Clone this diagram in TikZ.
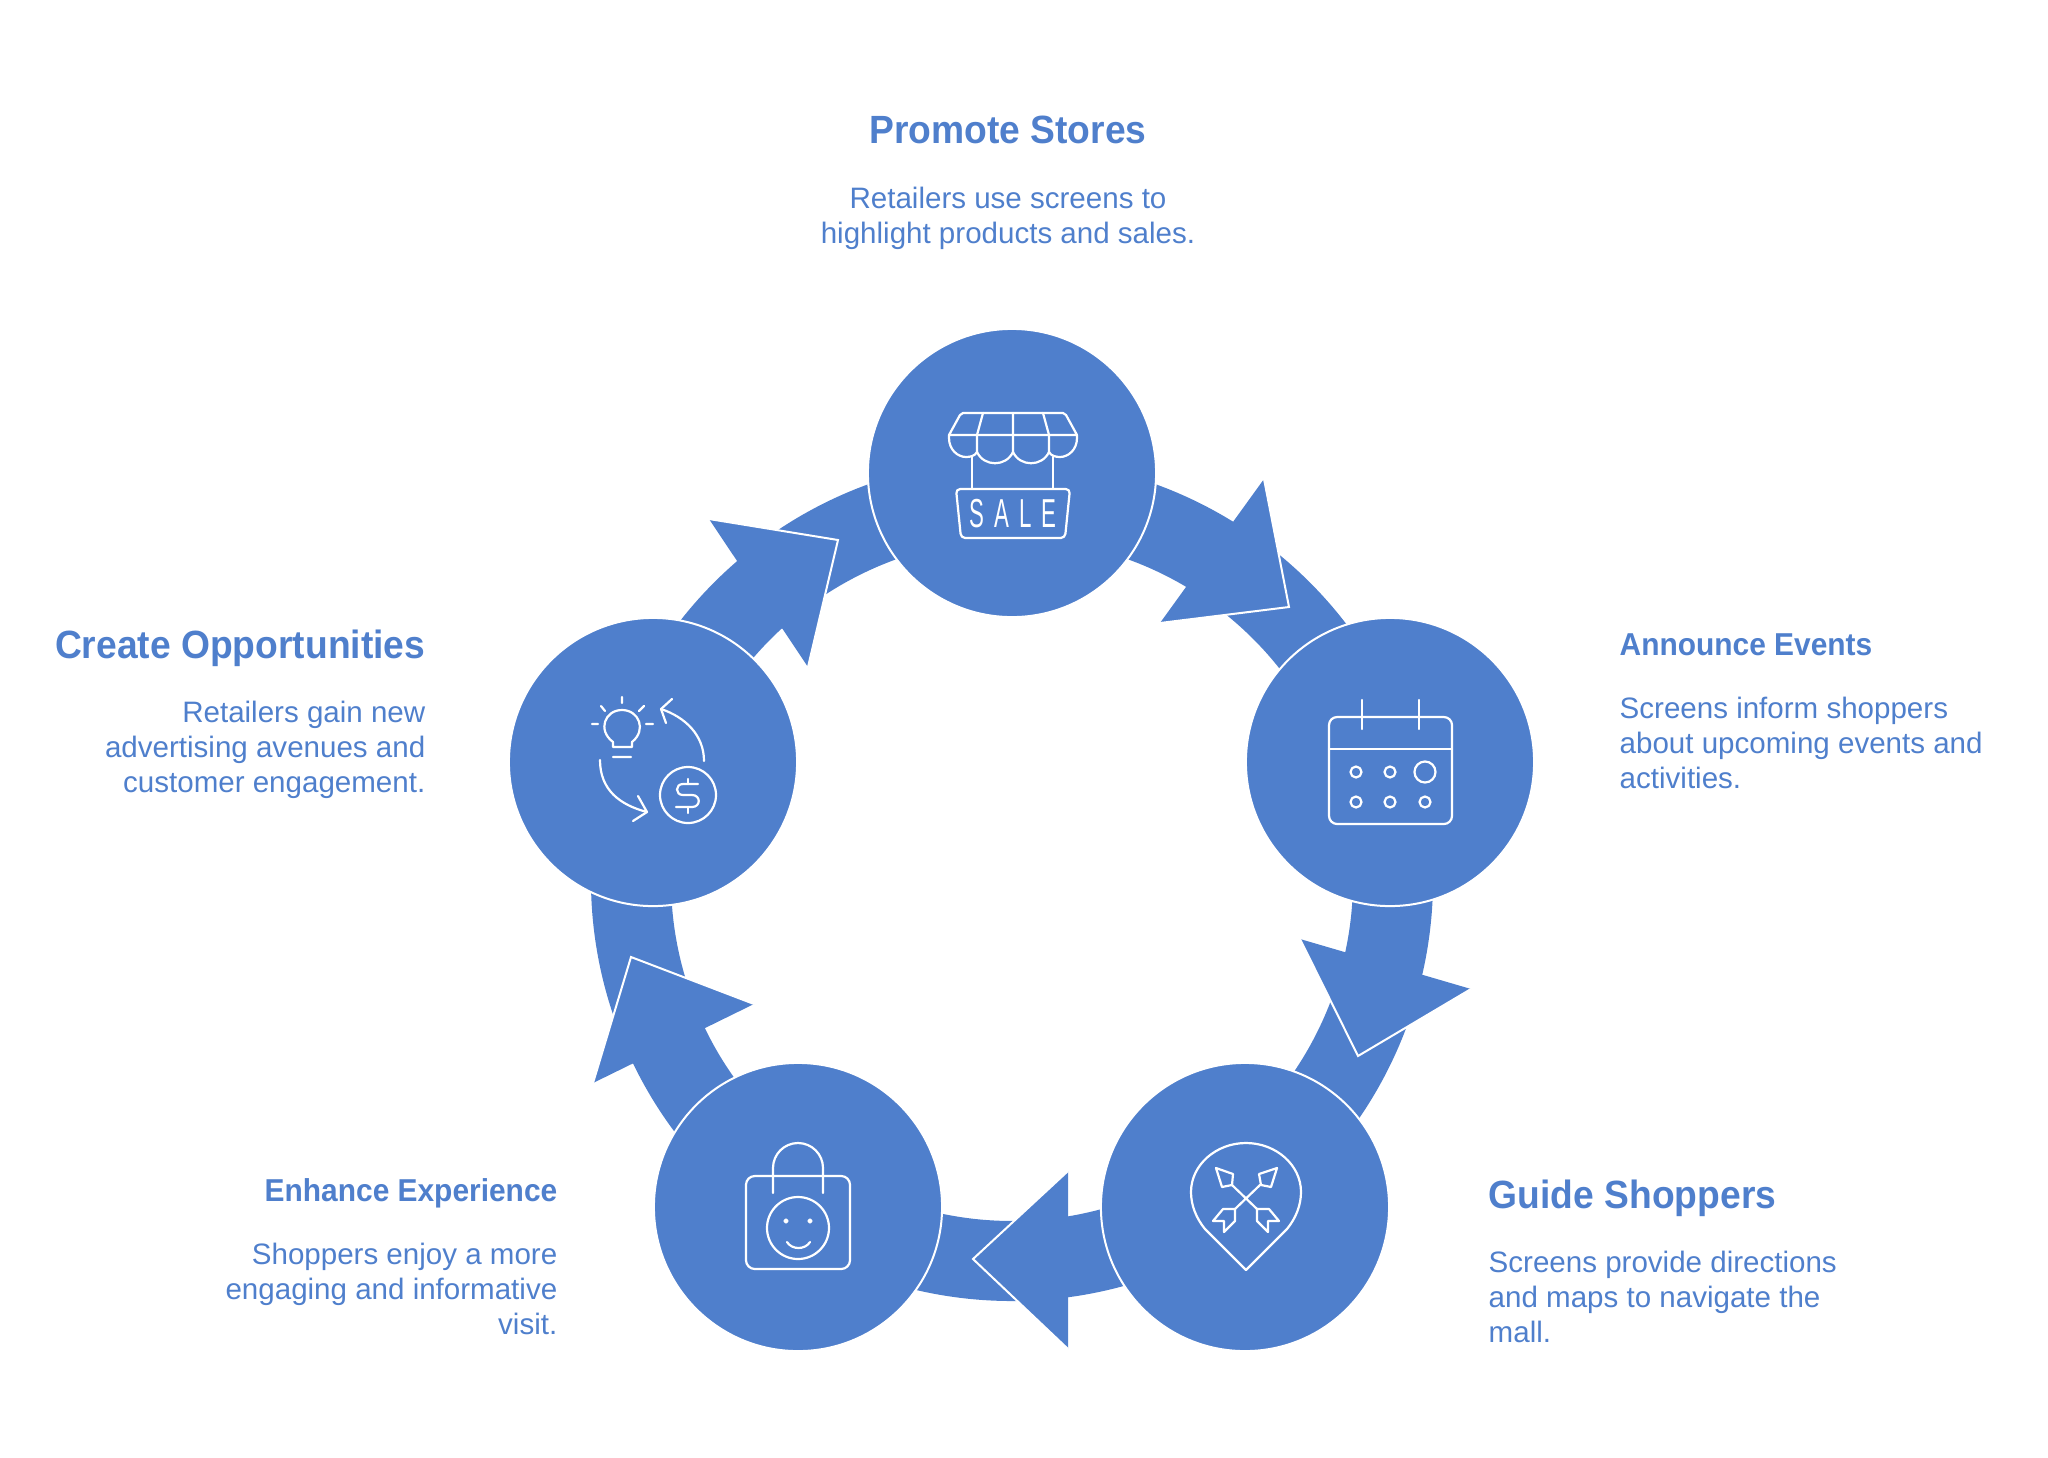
\documentclass[tikz,border=0pt]{standalone}
\usepackage{fontspec}
\setmainfont[BoldFeatures={FakeStretch=0.945}]{Liberation Sans}
\newfontfamily\salefont[FakeStretch=0.55,LetterSpace=25]{Liberation Sans}
\usetikzlibrary{calc,backgrounds}
\definecolor{ringblue}{RGB}{79,127,204}
\tikzset{
  stage/.style={circle, fill=ringblue, draw=white, line width=0.2mm, minimum size=2.88cm, inner sep=0pt},
  band/.style={draw=ringblue, line width=8mm, line join=round},
  headedge/.style={draw=white, line width=0.2mm, line join=miter},
  icon/.style={draw=white, line width=0.22mm, line cap=round, line join=round},
  bigtitle/.style={text=ringblue, inner sep=0pt, anchor=base, font=\bfseries\fontsize{11.2}{13}\selectfont},
  smalltitle/.style={text=ringblue, inner sep=0pt, anchor=base, font=\bfseries\fontsize{9}{11}\selectfont},
  bodytext/.style={text=ringblue, inner sep=0pt, font=\fontsize{8.4}{10}\selectfont}
}
\begin{document}
\begin{tikzpicture}[x=0.01cm, y=-0.01cm]
    \useasboundingbox (0,0) rectangle (2048,1457);
    \coordinate (ring) at (1012,880);

    % Stages
    \foreach \name/\px/\py in {promote/1012/473, announce/1390/762, guide/1245/1207, enhance/798/1207, create/653/762}
        \node[stage] (\name) at (\px,\py) {};

    % Connectors
    \begin{scope}[on background layer]
        \foreach \from/\to/\sa/\ea in {promote/announce/-90/-17, announce/guide/-17/54, guide/enhance/54/126, enhance/create/126/198, create/promote/198/270}
            \draw[band] (\from.center) -- ($(ring)+(\sa:381)$) arc[start angle=\sa, end angle=\ea, radius=381] -- (\to.center);
    \end{scope}

    % Arrow heads
    \foreach \ax/\ay/\bx/\by/\cx/\cy in {1264/479/1289/607/1160/623, 1471/989/1358/1056/1300/939, 1068/1171/973/1259/1068/1349, 754/1004/631/957/593/1083, 709/519/838/540/808/667} {
        \fill[ringblue] (\ax,\ay) -- (\bx,\by) -- (\cx,\cy) -- cycle;
        \draw[headedge] (\ax,\ay) -- (\bx,\by) -- (\cx,\cy);
    }

    % Labels
    \node[bigtitle] (promotetitle) at (1008,143) {Promote Stores};
    \node[bodytext, align=center] (promotetext) at (1008,218) {Retailers use screens to\\highlight products and sales.};
    \node[smalltitle, anchor=base west] (announcetitle) at (1619,655) {Announce Events};
    \node[bodytext, align=left, anchor=west] (announcetext) at (1619,743) {Screens inform shoppers\\about upcoming events and\\activities.};
    \node[bigtitle, anchor=base west] (guidetitle) at (1488,1208) {Guide Shoppers};
    \node[bodytext, align=left, anchor=west] (guidetext) at (1488,1297) {Screens provide directions\\and maps to navigate the\\mall.};
    \node[smalltitle, anchor=base east] (enhancetitle) at (558,1201) {Enhance Experience};
    \node[bodytext, align=right, anchor=east] (enhancetext) at (558,1289) {Shoppers enjoy a more\\engaging and informative\\visit.};
    \node[bigtitle, anchor=base east] (createtitle) at (426,658) {Create Opportunities};
    \node[bodytext, align=right, anchor=east] (createtext) at (426,750) {Retailers gain new\\advertising avenues and\\customer engagement.};

    % Store icon
    \draw[icon] (949,435) -- (960,415) -- (963,413) -- (1063,413) -- (1066,415) -- (1077,435) -- cycle;
    \draw[icon] (983,413) -- (977,435) -- (977,452) (1013,413) -- (1013,452) (1043,413) -- (1049,435) -- (1049,452);
    \draw[icon] (949,435) -- (949,438) .. controls (949,450) and (958,457) .. (966,457) .. controls (970,457) and (975,456) .. (977,452)
        .. controls (984,467) and (1006,467) .. (1013,452) .. controls (1020,467) and (1042,467) .. (1049,452)
        .. controls (1051,456) and (1056,457) .. (1060,457) .. controls (1068,457) and (1077,450) .. (1077,438) -- (1077,435);
    \draw[icon] (972,457) -- (972,488) (1053,457) -- (1053,488);
    \draw[icon, rounded corners=1.2pt] (956,489) -- (1070,489) -- (1065,538) -- (961,538) -- cycle;
    \node[text=white, inner sep=0pt, font=\salefont\fontsize{11.5}{13}\selectfont] (saletext) at (1013,514) {SALE};

    % Calendar icon
    \draw[icon, rounded corners=2.3pt] (1329,717) rectangle (1452,824);
    \draw[icon] (1329,749) -- (1452,749) (1362,700) -- (1362,729) (1419,700) -- (1419,729);
    \foreach \px/\py/\pr in {1356/772/5.5, 1390/772/5.5, 1425/772/10.5, 1356/802/5.5, 1390/802/5.5, 1425/802/5.5}
        \draw[icon] (\px,\py) circle[radius=\pr];

    % Pin icon
    \draw[icon] (1246,1143) .. controls (1276,1143) and (1301,1165) .. (1301,1192) .. controls (1301,1205) and (1296,1218) .. (1287,1229) -- (1246,1270)
        -- (1205,1229) .. controls (1196,1218) and (1191,1205) .. (1191,1192) .. controls (1191,1165) and (1216,1143) .. (1246,1143) -- cycle;
    \draw[icon] (1216,1168) -- (1233,1174) -- (1232,1185) -- (1222,1187) -- cycle;
    \draw[icon] (1277,1168) -- (1259,1174) -- (1261,1185) -- (1271,1187) -- cycle;
    \draw[icon] (1232,1185) -- (1257,1209) (1260,1185) -- (1235,1209);
    \draw[icon] (1257,1209) -- (1269,1209) -- (1279,1221) -- (1268,1221) -- (1268,1232) -- (1257,1221) -- cycle;
    \draw[icon] (1235,1209) -- (1223,1209) -- (1213,1221) -- (1224,1221) -- (1224,1232) -- (1235,1221) -- cycle;

    % Bag icon
    \draw[icon, rounded corners=2.5pt] (746,1176) rectangle (850,1269);
    \draw[icon] (773,1193) -- (773,1168) arc[start angle=180, end angle=360, radius=25] -- (823,1193);
    \draw[icon] (798,1228) circle[radius=31];
    \draw[icon] (786,1221) circle[radius=1.5] (810,1221) circle[radius=1.5];
    \draw[icon] (787,1242) .. controls (792,1250) and (805,1250) .. (810,1242);

    % Bulb and coin icon
    \draw[icon] (613,747) -- (613,742) .. controls (597,730) and (605,710) .. (622,710) .. controls (639,710) and (647,730) .. (632,742) -- (632,747) -- cycle;
    \draw[icon] (613,757) -- (631,757) (622,697) -- (622,703) (592,724) -- (598,724) (646,724) -- (653,724) (601,706) -- (605,711) (644,706) -- (639,711);
    \draw[icon] (704,761) .. controls (704,735) and (685,717) .. (661,709);
    \draw[icon] (672,699) -- (661,709) -- (666,723);
    \draw[icon] (600,760) .. controls (600,790) and (620,805) .. (647,812);
    \draw[icon] (638,796) -- (647,812) -- (633,821);
    \draw[icon] (688,795) circle[radius=28];
    \draw[icon] (698,784) -- (683,784) .. controls (675,784) and (675,795) .. (683,795) -- (692,795) .. controls (701,795) and (701,807) .. (692,807) -- (676,807);
    \draw[icon] (688,779) -- (688,784) (688,807) -- (688,813);
\end{tikzpicture}
\end{document}
